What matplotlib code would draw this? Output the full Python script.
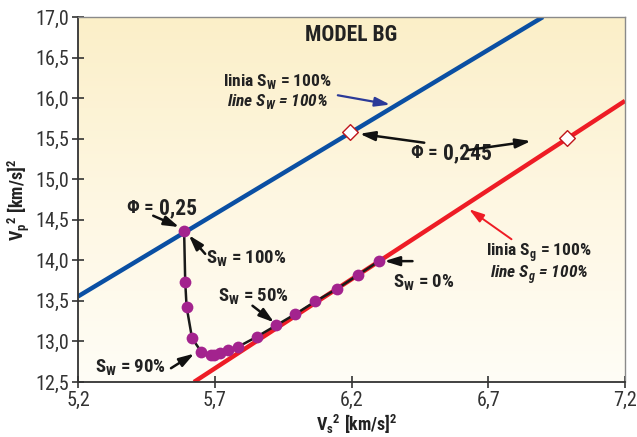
import numpy as np
import matplotlib
matplotlib.use("Agg")
import matplotlib.pyplot as plt
from matplotlib.colors import LinearSegmentedColormap
from matplotlib.patches import FancyArrowPatch
from matplotlib import font_manager as fm

# ---- pick a condensed sans font if one is installed ----
entries = fm.fontManager.ttflist
names = {f.name for f in entries}
chosen, stretch = None, 'normal'
for p in ['Liberation Sans Narrow', 'Roboto Condensed', 'Open Sans Condensed',
          'Noto Sans Condensed', 'DejaVu Sans Condensed', 'Arial Narrow']:
    if p in names:
        chosen = p
        break
if chosen is None:
    for f in entries:
        if any(k in f.name for k in ('Narrow', 'Condensed')):
            chosen = f.name
            break
if chosen is None:
    for fam in ['Noto Sans', 'Roboto', 'Liberation Sans', 'DejaVu Sans', 'Open Sans']:
        if any(f.name == fam and f.stretch in ('condensed', 'semi-condensed', 'extra-condensed')
               for f in entries):
            chosen, stretch = fam, 'condensed'
            break
SCALE = 1.0
if chosen is None:
    chosen = 'Liberation Sans'
    SCALE = 0.85

plt.rcParams['font.family'] = [chosen, 'DejaVu Sans']
plt.rcParams['font.stretch'] = stretch

# ---- data ----
sw_line_x = [5.2, 6.90]
sw_line_y = [13.555, 17.0]
sg_line_x = [5.624, 7.2]
sg_line_y = [12.5, 15.966]
phi_points_x = [6.196, 6.989]
phi_points_y = [15.586, 15.504]
path_x = [5.588, 5.592, 5.597, 5.617, 5.650, 5.686, 5.699, 5.718, 5.749, 5.785,
          5.853, 5.925, 5.995, 6.068, 6.147, 6.224, 6.301]
path_y = [14.360, 13.738, 13.428, 13.040, 12.876, 12.835, 12.835, 12.856, 12.893,
          12.933, 13.056, 13.199, 13.338, 13.493, 13.649, 13.820, 13.992]
xticks = [5.2, 5.7, 6.2, 6.7, 7.2]
xtick_labels = ['5,2', '5,7', '6,2', '6,7', '7,2']
yticks = [12.5, 13.0, 13.5, 14.0, 14.5, 15.0, 15.5, 16.0, 16.5, 17.0]
ytick_labels = ['12,5', '13,0', '13,5', '14,0', '14,5', '15,0', '15,5', '16,0', '16,5', '17,0']

fig = plt.figure(figsize=(6.37, 4.37), dpi=100)
ax = fig.add_axes([78/637, 1-382/437, (625-78)/637, (382-17)/437])
ax.set_xlim(5.2, 7.2)
ax.set_ylim(12.5, 17.0)

# background gradient
cmap = LinearSegmentedColormap.from_list('bg', ['#FFFDF6', '#FEF7E2', '#FBEFC8'])
grad = np.linspace(0, 1, 256).reshape(-1, 1)
ax.imshow(grad, extent=[5.2, 7.2, 12.5, 17.0], origin='lower', aspect='auto',
          cmap=cmap, zorder=0)

ax.plot(sw_line_x, sw_line_y, color='#0A4FA3', lw=3.2, solid_capstyle='butt', zorder=2)
ax.plot(sg_line_x, sg_line_y, color='#EE1C25', lw=3.2, solid_capstyle='butt', zorder=2)
ax.plot(path_x, path_y, color='#1a1a1a', lw=1.8, zorder=3)
ax.scatter(path_x, path_y, s=72, color='#A3238E', zorder=4, linewidths=0)
ax.scatter(phi_points_x, phi_points_y, s=64, marker='D', facecolor='white',
           edgecolor='#C0151B', linewidths=1.0, zorder=5)

ax.set_xticks(xticks)
ax.set_xticklabels(xtick_labels)
ax.set_yticks(yticks)
ax.set_yticklabels(ytick_labels)
ax.tick_params(direction='inout', length=9, width=1.2, labelsize=14.5*SCALE,
               colors='#333333', pad=2)
for s in ['left', 'bottom']:
    ax.spines[s].set_color('#333333')
    ax.spines[s].set_linewidth(1.3)
for s in ['top', 'right']:
    ax.spines[s].set_color('#8a8a8a')
    ax.spines[s].set_linewidth(1.0)

ax.set_xlabel(r'V$_\mathregular{s}$$^\mathregular{2}$ [km/s]$^\mathregular{2}$',
              fontsize=13*SCALE, fontweight='bold', color='#222222', labelpad=0)
ax.set_ylabel(r'V$_\mathregular{p}$$^\mathregular{2}$ [km/s]$^\mathregular{2}$',
              fontsize=13*SCALE, fontweight='bold', color='#222222', labelpad=2)
ax.xaxis.set_label_coords(0.51, -0.085)

FS = 13.5*SCALE
FL = 12.5*SCALE
tk = dict(fontsize=FS, fontweight='bold', color='#222222', zorder=6)
tl = dict(fontsize=FL, fontweight='bold', color='#222222', zorder=6)
ax.text(6.2, 16.78, 'MODEL BG', ha='center', va='center', fontsize=15.5*SCALE,
        fontweight='bold', color='#222222')
ax.text(5.93, 16.20, r'linia S$_\mathregular{W}$ = 100%', ha='center', va='center', **tl)
ax.text(5.93, 15.955, r'line S$_\mathregular{W}$ = 100%', ha='center', va='center',
        style='italic', **tl)
ax.text(6.886, 14.10, r'linia S$_\mathregular{g}$ = 100%', ha='center', va='center', **tl)
ax.text(6.886, 13.83, r'line S$_\mathregular{g}$ = 100%', ha='center', va='center',
        style='italic', **tl)
ax.text(5.816, 14.02, r'S$_\mathregular{W}$ = 100%', ha='center', va='center', **tk)
ax.text(5.843, 13.55, r'S$_\mathregular{W}$ = 50%', ha='center', va='center', **tk)
ax.text(5.392, 12.67, r'S$_\mathregular{W}$ = 90%', ha='center', va='center', **tk)
ax.text(6.463, 13.72, r'S$_\mathregular{W}$ = 0%', ha='center', va='center', **tk)

ax.text(5.493, 14.64, 'Φ = ', ha='right', va='center', fontsize=FS,
        fontweight='bold', color='#222222')
ax.text(5.497, 14.64, '0,25', ha='left', va='center', fontsize=15.5*SCALE,
        fontweight='heavy', color='#222222')
ax.text(6.530, 15.32, 'Φ = ', ha='right', va='center', fontsize=FS,
        fontweight='bold', color='#222222')
ax.text(6.535, 15.32, '0,245', ha='left', va='center', fontsize=15.5*SCALE,
        fontweight='heavy', color='#222222')

def arrow(x0, y0, x1, y1, color='#111111', lw=1.8, hw=0.28, hl=0.9):
    p = FancyArrowPatch((x0, y0), (x1, y1),
                        arrowstyle=f'-|>,head_width={hw},head_length={hl}',
                        mutation_scale=10, color=color, lw=lw,
                        shrinkA=0, shrinkB=0, zorder=6)
    ax.add_patch(p)

arrow(6.15, 16.035, 6.341, 15.92, color='#2B3A98', lw=1.6)
arrow(6.466, 15.45, 6.23, 15.56)
arrow(6.627, 15.36, 6.856, 15.47)
arrow(5.475, 14.55, 5.57, 14.41)
arrow(5.665, 14.08, 5.605, 14.31)
arrow(5.838, 13.44, 5.917, 13.235)
arrow(5.54, 12.67, 5.625, 12.85)
arrow(6.423, 13.99, 6.32, 13.99)
arrow(6.785, 14.26, 6.63, 14.63, color='#EE1C25', lw=1.4)

fig.savefig('out.png', dpi=100)
